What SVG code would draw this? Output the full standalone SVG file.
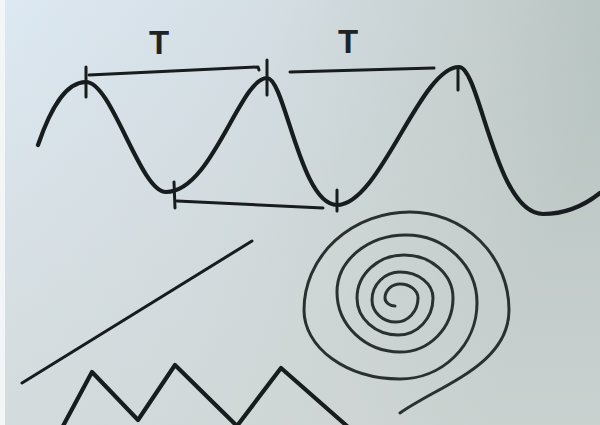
<svg xmlns="http://www.w3.org/2000/svg" width="600" height="425" viewBox="0 0 600 425">
  <defs>
    <linearGradient id="bg" x1="0" y1="0" x2="1" y2="0.25">
      <stop offset="0" stop-color="#dde9f3"/>
      <stop offset="0.45" stop-color="#d3dde3"/>
      <stop offset="0.8" stop-color="#c3cdcb"/>
      <stop offset="1" stop-color="#b5c2bf"/>
    </linearGradient>
    <linearGradient id="shade" x1="0" y1="0" x2="0" y2="1">
      <stop offset="0" stop-color="#d4d9d8" stop-opacity="0"/>
      <stop offset="1" stop-color="#d2d8d7" stop-opacity="0.7"/>
    </linearGradient>
    <style>
      .ink { fill: none; stroke: #171c1e; stroke-linecap: round; stroke-linejoin: round; }
      .wave { stroke-width: 4.2; }
      .thin { stroke-width: 3; }
      .spiral { fill: none; stroke: #2a3030; stroke-width: 3; stroke-linecap: round; }
      .lbl { font-family: "Liberation Sans", Arial, sans-serif; font-size: 33px; font-weight: bold; fill: #1e2426; text-anchor: middle; }
    </style>
  </defs>
  <rect width="600" height="425" fill="url(#bg)"/>
  <rect width="600" height="425" fill="url(#shade)"/>
  <rect x="0" y="0" width="5" height="425" fill="#f3f6f7"/>

  <g id="wave">
    <path class="ink wave" d="M38,145 C50,110 65,82 86,82 C112,82 140,192 166,192 C212,192 240,78 267,78 C285,78 300,205 337,205 C380,205 420,67 459,67 C480,67 495,214 543,214 C565,214 585,205 600,193"/>
  </g>
  <g id="ticks">
    <path class="ink thin" d="M86,67 L86,97 M267,60 L267,95 M458,67 L458,90 M174,182 L175,208 M337,190 L337,211"/>
  </g>
  <g id="brackets">
    <path class="ink thin" d="M89,75 L258,67 L259,70"/>
    <path class="ink thin" d="M290,72 L434,68"/>
    <path class="ink thin" d="M177,201 L323,208"/>
  </g>
  <g id="labels">
    <text class="lbl" x="159" y="54">T</text>
    <text class="lbl" x="348" y="53">T</text>
  </g>
  <g id="line">
    <path class="ink thin" d="M22,383 L252,241"/>
  </g>
  <g id="zigzag">
    <path class="ink wave" d="M63,426 L92,372 L138,420 L175,365 L237,426 L281,368 L347,426"/>
  </g>
  <g id="spiral">
    <path class="spiral" d="M400,413 C440,385 509,365 509,310 A99,98 0 0 0 410,212 A106,98 0 0 0 304,310 A96,69 0 0 0 400,379 A77,76 0 0 0 477,303 A71,68 0 0 0 406,235 A69,57 0 0 0 337,292 A63,60 0 0 0 400,352 A53,54 0 0 0 453,298 A49,43 0 0 0 404,255 A47,43 0 0 0 357,298 A41,37 0 0 0 398,335 A35,37 0 0 0 433,298 A33,26 0 0 0 400,272 A28,28 0 0 0 372,300 A24,22 0 0 0 396,322 A22,24 0 0 0 418,298 A18,14 0 0 0 400,284 A15,14 0 0 0 385,298 A10,8 0 0 0 395,306"/>
  </g>
</svg>
